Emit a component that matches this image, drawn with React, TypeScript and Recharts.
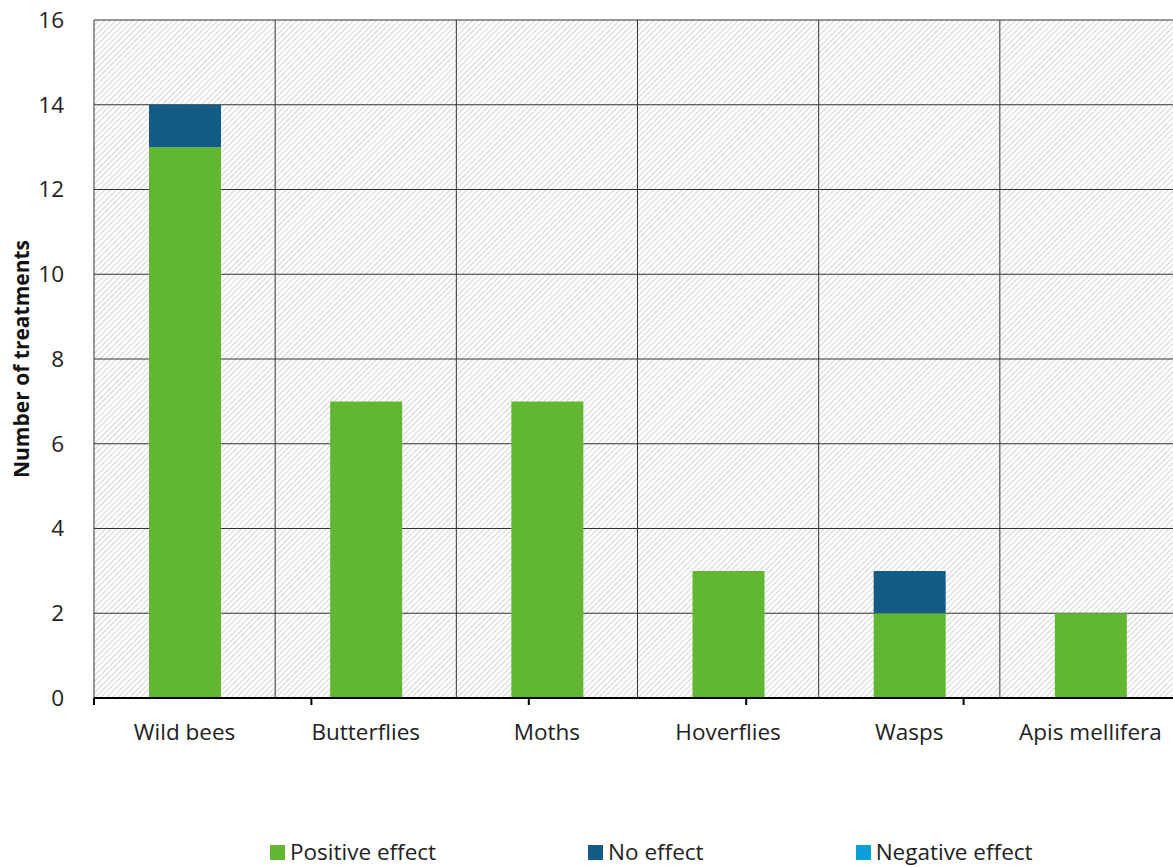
import React from "react";
import {
  BarChart,
  Bar,
  XAxis,
  YAxis,
  CartesianGrid,
  Legend,
} from "recharts";

// Pollinator groups and number of treatments by effect type
const categories = [
  "Wild bees",
  "Butterflies",
  "Moths",
  "Hoverflies",
  "Wasps",
  "Apis mellifera",
];
const positiveEffect = [13, 7, 7, 3, 2, 2];
const noEffect = [1, 0, 0, 0, 1, 0];
const negativeEffect = [0, 0, 0, 0, 0, 0];
const yTicks = [0, 2, 4, 6, 8, 10, 12, 14, 16];
const boundaryTicks = [0, 1, 2, 3, 4, 5, 6];

const seriesInfo = [
  { key: "positive", name: "Positive effect", color: "#62B732" },
  { key: "none", name: "No effect", color: "#135C85" },
  { key: "negative", name: "Negative effect", color: "#0B9FD9" },
];

const data = categories.map((c, i) => ({
  category: c,
  positive: positiveEffect[i],
  none: noEffect[i],
  negative: negativeEffect[i],
}));

const FONT = "'Open Sans', sans-serif";
const TICK_SIZE = 22.5;

const LegendContent = () => (
  <div
    style={{
      display: "flex",
      alignItems: "baseline",
      gap: 152,
      fontFamily: FONT,
      fontSize: TICK_SIZE,
      lineHeight: "22px",
      color: "#222",
      whiteSpace: "nowrap",
    }}
  >
    {seriesInfo.map((s) => (
      <div key={s.key} style={{ display: "flex", alignItems: "baseline" }}>
        <span
          style={{
            width: 15,
            height: 15,
            background: s.color,
            display: "inline-block",
            marginRight: 5,
          }}
        />
        <span>{s.name}</span>
      </div>
    ))}
  </div>
);

// vertical grid lines sit on the category boundaries
const boundaryGrid = ({ offset }: any) =>
  boundaryTicks.map(
    (t) => offset.left + (offset.width * t) / categories.length
  );

export default function App() {
  return (
    <div
      style={{
        position: "absolute",
        left: 0,
        top: 0,
        width: 1173,
        height: 868,
        overflow: "hidden",
        background: "#fff",
      }}
    >
      <BarChart
        width={1182}
        height={868}
        data={data}
        margin={{ top: 20, right: 1, bottom: 0, left: 0 }}
        barSize={72}
      >
        <defs>
          <pattern
            id="hatch"
            patternUnits="userSpaceOnUse"
            width={4}
            height={4}
            patternTransform="rotate(45)"
          >
            <rect width={4} height={4} fill="#ffffff" />
            <line x1={0} y1={0} x2={0} y2={4} stroke="#c9c9c9" strokeWidth={1.6} />
          </pattern>
        </defs>
        <CartesianGrid
          xAxisId="z"
          fill="url(#hatch)"
          fillOpacity={1}
          stroke="#333333"
          strokeWidth={1}
          verticalCoordinatesGenerator={boundaryGrid}
        />
        <XAxis
          xAxisId="a"
          type="number"
          domain={[0, 6]}
          ticks={boundaryTicks}
          height={1}
          tickFormatter={() => ""}
          tickLine={{ stroke: "#000", strokeWidth: 2 }}
          tickSize={7}
          axisLine={{ stroke: "#000", strokeWidth: 2 }}
          allowDataOverflow
        />
        <XAxis
          xAxisId="z"
          dataKey="category"
          height={60}
          axisLine={false}
          tickLine={false}
          tickMargin={19}
          tick={{ fontFamily: FONT, fontSize: TICK_SIZE, fill: "#222" }}
          interval={0}
        />
        <YAxis
          domain={[0, 16]}
          ticks={yTicks}
          width={94}
          axisLine={false}
          tickLine={false}
          tickMargin={24}
          tick={{ fontFamily: FONT, fontSize: TICK_SIZE, fill: "#222" }}
          label={{
            value: "Number of treatments",
            angle: -90,
            position: "insideLeft",
            offset: 22,
            style: {
              fontFamily: FONT,
              fontSize: 21,
              fontWeight: 700,
              fill: "#111",
              textAnchor: "middle",
            },
          }}
        />
        {seriesInfo.map((s) => (
          <Bar
            key={s.key}
            xAxisId="z"
            dataKey={s.key}
            name={s.name}
            stackId="a"
            fill={s.color}
            isAnimationActive={false}
          />
        ))}
        <Legend
          content={<LegendContent />}
          height={109}
          wrapperStyle={{ left: 270, top: 841, width: "auto" }}
        />
      </BarChart>
    </div>
  );
}
